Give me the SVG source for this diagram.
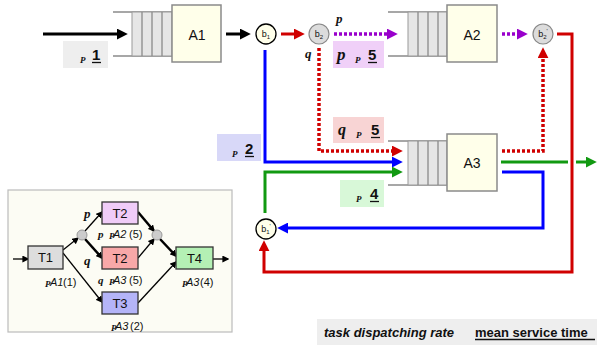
<svg xmlns="http://www.w3.org/2000/svg" width="597" height="345" viewBox="0 0 597 345">
<style>
.box{fill:#ffffea;stroke:#8a8a8a;stroke-width:1.5}
.ql{stroke:#8a8a8a;stroke-width:1.3}
.qc{fill:#e6e6e6;stroke:#9a9a9a;stroke-width:1}
.lbl{font-family:"Liberation Sans",Arial,sans-serif;font-size:14px;fill:#111;text-anchor:middle}
.tsk{font-family:"Liberation Sans",Arial,sans-serif;font-size:13px;fill:#111;text-anchor:middle}
.bt{font-family:"Liberation Sans",Arial,sans-serif;font-size:9px;fill:#111;text-anchor:middle}
.sub{font-size:6px}
.gr{font-family:"Liberation Serif","Times New Roman",serif;font-weight:bold;font-style:italic;fill:#111}
.tiny{font-family:"Liberation Serif","Times New Roman",serif;font-weight:bold;font-style:italic;font-size:9px;fill:#111}
.num{font-family:"Liberation Sans",Arial,sans-serif;font-weight:bold;font-size:15px;fill:#111}
.it{font-family:"Liberation Sans",Arial,sans-serif;font-style:italic;font-size:11px;fill:#111}
.rg{font-family:"Liberation Sans",Arial,sans-serif;font-size:11px;fill:#111}
.tk{fill:none;stroke-width:3}
.dt{fill:none;stroke-width:3.5;stroke-dasharray:3 2}
.th{stroke:#000;stroke-width:1.3;fill:none}
.thk{stroke:#000;stroke-width:2.5;fill:none}
</style>
<defs>
<marker id="ak" viewBox="0 0 10 10" refX="2" refY="5" markerWidth="11" markerHeight="11" orient="auto" markerUnits="userSpaceOnUse"><path d="M0,0 L10,5 L0,10 z" fill="#000"/></marker>
<marker id="ar" viewBox="0 0 10 10" refX="2" refY="5" markerWidth="11" markerHeight="11" orient="auto" markerUnits="userSpaceOnUse"><path d="M0,0 L10,5 L0,10 z" fill="#d00000"/></marker>
<marker id="ab" viewBox="0 0 10 10" refX="2" refY="5" markerWidth="11" markerHeight="11" orient="auto" markerUnits="userSpaceOnUse"><path d="M0,0 L10,5 L0,10 z" fill="#0000ff"/></marker>
<marker id="ag" viewBox="0 0 10 10" refX="2" refY="5" markerWidth="11" markerHeight="11" orient="auto" markerUnits="userSpaceOnUse"><path d="M0,0 L10,5 L0,10 z" fill="#119911"/></marker>
<marker id="ap" viewBox="0 0 10 10" refX="2" refY="5" markerWidth="11" markerHeight="11" orient="auto" markerUnits="userSpaceOnUse"><path d="M0,0 L10,5 L0,10 z" fill="#9900cc"/></marker>
<marker id="as" viewBox="0 0 10 10" refX="8" refY="5" markerWidth="7" markerHeight="7" orient="auto" markerUnits="userSpaceOnUse"><path d="M0,0 L10,5 L0,10 z" fill="#000"/></marker>
</defs>

<!-- labels (rate boxes) -->
<g id="label-1">
<rect x="63" y="41" width="45" height="27" fill="#eeeeee"/>
<text class="tiny" x="80" y="63">P</text>
<text class="num" x="92" y="60">1</text>
<line x1="92" y1="62.5" x2="101" y2="62.5" stroke="#111" stroke-width="1.3"/>
</g>
<g id="label-p5">
<rect x="333" y="41" width="51" height="27" fill="#f0d0f8"/>
<text class="gr" x="337" y="60" font-size="17">p</text>
<text class="tiny" x="355" y="63">P</text>
<text class="num" x="368" y="60">5</text>
<line x1="368" y1="62.5" x2="377" y2="62.5" stroke="#111" stroke-width="1.3"/>
</g>
<g id="label-q5">
<rect x="333" y="117" width="51" height="26" fill="#f8d4d4"/>
<text class="gr" x="338" y="135" font-size="16">q</text>
<text class="tiny" x="356" y="138">P</text>
<text class="num" x="371" y="135">5</text>
<line x1="371" y1="137.5" x2="380" y2="137.5" stroke="#111" stroke-width="1.3"/>
</g>
<g id="label-2">
<rect x="217" y="134" width="44" height="27" fill="#d8d8f8"/>
<text class="tiny" x="232" y="157">P</text>
<text class="num" x="245" y="154">2</text>
<line x1="245" y1="156.5" x2="254" y2="156.5" stroke="#111" stroke-width="1.3"/>
</g>
<g id="label-4">
<rect x="340" y="180" width="44" height="27" fill="#d8f8d8"/>
<text class="tiny" x="356" y="202">P</text>
<text class="num" x="370" y="199">4</text>
<line x1="370" y1="201.5" x2="379" y2="201.5" stroke="#111" stroke-width="1.3"/>
</g>

<!-- connectors -->
<g id="connectors">
<line x1="43" y1="34" x2="119" y2="34" stroke="#000" stroke-width="3" marker-end="url(#ak)"/>
<line x1="226" y1="34" x2="242" y2="34" stroke="#000" stroke-width="3" marker-end="url(#ak)"/>
<line x1="281" y1="34" x2="296" y2="34" stroke="#d00000" stroke-width="3" marker-end="url(#ar)"/>
<line x1="334" y1="34" x2="389" y2="34" class="dt" stroke="#9900cc" marker-end="url(#ap)"/>
<line x1="502" y1="34" x2="519" y2="34" class="dt" stroke="#9900cc" marker-end="url(#ap)"/>
<path d="M319,48 V151 H394" class="dt" stroke="#d00000" marker-end="url(#ar)"/>
<path d="M502,151 H543 V56" class="dt" stroke="#d00000" marker-end="url(#ar)"/>
<path d="M557,34 H572 V272 H264 V249" class="tk" stroke="#d00000" stroke-width="3.5" marker-end="url(#ar)"/>
<path d="M265,50 V162 H394" class="tk" stroke="#0000ff" marker-end="url(#ab)"/>
<path d="M502,172 H543 V228 H286" class="tk" stroke="#0000ff" marker-end="url(#ab)"/>
<path d="M265,213 V172 H394" class="tk" stroke="#119911" marker-end="url(#ag)"/>
<line x1="501" y1="162" x2="568" y2="162" stroke="#119911" stroke-width="3"/>
<line x1="576" y1="162" x2="588" y2="162" stroke="#119911" stroke-width="3" marker-end="url(#ag)"/>
<text class="gr" x="336" y="23" font-size="13">p</text>
<text class="gr" x="305" y="58" font-size="13">q</text>
</g>

<!-- station A1 -->
<g id="A1">
<line class="ql" x1="113" y1="12" x2="172" y2="12"/>
<line class="ql" x1="113" y1="56" x2="172" y2="56"/>
<rect class="qc" x="132" y="12" width="40" height="44"/>
<line class="ql" x1="142" y1="12" x2="142" y2="56"/>
<line class="ql" x1="152" y1="12" x2="152" y2="56"/>
<line class="ql" x1="162" y1="12" x2="162" y2="56"/>
<rect class="box" x="172" y="5" width="49" height="57"/>
<text class="lbl" x="197" y="40">A1</text>
</g>
<!-- station A2 -->
<g id="A2">
<line class="ql" x1="388" y1="12" x2="447" y2="12"/>
<line class="ql" x1="388" y1="56" x2="447" y2="56"/>
<rect class="qc" x="408" y="12" width="39" height="44"/>
<line class="ql" x1="418" y1="12" x2="418" y2="56"/>
<line class="ql" x1="428" y1="12" x2="428" y2="56"/>
<line class="ql" x1="438" y1="12" x2="438" y2="56"/>
<rect class="box" x="447" y="5" width="50" height="57"/>
<text class="lbl" x="472" y="40">A2</text>
</g>
<!-- station A3 -->
<g id="A3">
<line class="ql" x1="388" y1="141" x2="447" y2="141"/>
<line class="ql" x1="388" y1="185" x2="447" y2="185"/>
<rect class="qc" x="408" y="141" width="39" height="44"/>
<line class="ql" x1="418" y1="141" x2="418" y2="185"/>
<line class="ql" x1="428" y1="141" x2="428" y2="185"/>
<line class="ql" x1="438" y1="141" x2="438" y2="185"/>
<rect class="box" x="447" y="134" width="50" height="57"/>
<text class="lbl" x="472" y="168">A3</text>
</g>

<!-- branch points -->
<g id="b1">
<circle cx="266" cy="34" r="10" fill="#ffffea" stroke="#000" stroke-width="1.3"/>
<text class="bt" x="266" y="37">b<tspan class="sub" dy="2">1</tspan></text>
</g>
<g id="b2">
<circle cx="319" cy="34" r="10" fill="#dcdcdc" stroke="#888" stroke-width="1.2"/>
<text class="bt" x="319" y="37">b<tspan class="sub" dy="2">2</tspan></text>
</g>
<g id="b2p">
<circle cx="543" cy="34" r="10" fill="#dcdcdc" stroke="#888" stroke-width="1.2"/>
<text class="bt" x="543" y="37">b<tspan class="sub" dy="2">2</tspan><tspan class="sub" dy="-6">'</tspan></text>
</g>
<g id="b1p">
<circle cx="266" cy="229" r="10" fill="#ffffea" stroke="#000" stroke-width="1.3"/>
<text class="bt" x="266" y="232">b<tspan class="sub" dy="2">1</tspan><tspan class="sub" dy="-6">'</tspan></text>
</g>

<!-- inset task graph -->
<g id="inset">
<rect x="8" y="190" width="224" height="142" fill="#fcfcf4" stroke="#bbbbbb" stroke-width="1.2"/>
<g id="inset-connectors">
<line class="th" x1="13" y1="259" x2="28" y2="259" marker-end="url(#as)"/>
<line class="th" x1="63" y1="250" x2="78" y2="238" marker-end="url(#as)"/>
<line class="th" x1="63" y1="253" x2="102" y2="302" marker-end="url(#as)"/>
<line class="th" x1="85" y1="231" x2="102" y2="212" marker-end="url(#as)"/>
<line class="thk" x1="85" y1="239" x2="102" y2="258" marker-end="url(#as)"/>
<line class="thk" x1="138" y1="212" x2="154" y2="231" marker-end="url(#as)"/>
<line class="th" x1="138" y1="258" x2="154" y2="239" marker-end="url(#as)"/>
<line class="thk" x1="160" y1="239" x2="176" y2="256" marker-end="url(#as)"/>
<line class="th" x1="138" y1="303" x2="176" y2="262" marker-end="url(#as)"/>
<line class="th" x1="213" y1="259" x2="228" y2="259" stroke-width="1.8" marker-end="url(#as)"/>
</g>
<circle id="split" cx="82" cy="235" r="5" fill="#cccccc" stroke="#999" stroke-width="1"/>
<circle id="join" cx="157" cy="235" r="5" fill="#cccccc" stroke="#999" stroke-width="1"/>
<g id="T1"><rect x="28" y="246" width="35" height="23" fill="#dddddd" stroke="#333" stroke-width="1.3"/><text class="tsk" x="45.5" y="262">T1</text></g>
<g id="T2a"><rect x="102" y="202" width="36" height="22" fill="#f0ccf8" stroke="#333" stroke-width="1.3"/><text class="tsk" x="120" y="218">T2</text></g>
<g id="T2b"><rect x="102" y="247" width="36" height="22" fill="#f8a8a8" stroke="#333" stroke-width="1.3"/><text class="tsk" x="120" y="263">T2</text></g>
<g id="T3"><rect x="102" y="292" width="36" height="22" fill="#b4b4f8" stroke="#333" stroke-width="1.3"/><text class="tsk" x="120" y="308">T3</text></g>
<g id="T4"><rect x="176" y="247" width="37" height="22" fill="#b4f0b4" stroke="#333" stroke-width="1.3"/><text class="tsk" x="194.5" y="263">T4</text></g>
<text class="gr" x="84" y="218" font-size="13">p</text>
<text class="gr" x="84" y="265" font-size="13">q</text>
<text x="98" y="238"><tspan class="gr" font-size="11" font-weight="normal">p</tspan></text>
<text class="tiny" x="109" y="239" font-size="6">P</text>
<text class="it" x="113" y="238">A2</text><text class="rg" x="129" y="238">(5)</text>
<text x="98" y="284"><tspan class="gr" font-size="11" font-weight="normal">q</tspan></text>
<text class="tiny" x="109" y="285" font-size="6">P</text>
<text class="it" x="113" y="284">A3</text><text class="rg" x="129" y="284">(5)</text>
<text class="tiny" x="45" y="287" font-size="6">P</text>
<text class="it" x="50" y="286">A1</text><text class="rg" x="63" y="286">(1)</text>
<text class="tiny" x="111" y="331" font-size="6">P</text>
<text class="it" x="115" y="330">A3</text><text class="rg" x="130" y="330">(2)</text>
<text class="tiny" x="182" y="287" font-size="6">P</text>
<text class="it" x="186" y="286">A3</text><text class="rg" x="200" y="286">(4)</text>
</g>

<!-- legend -->
<g id="legend">
<rect x="317" y="319" width="280" height="26" fill="#eeeeee"/>
<text x="324" y="337" font-family="Liberation Sans,Arial,sans-serif" font-size="13" font-weight="bold" font-style="italic" fill="#111">task dispatching rate</text>
<text x="475" y="337" font-family="Liberation Sans,Arial,sans-serif" font-size="13" font-weight="bold" fill="#111">mean service time</text>
<line x1="475" y1="339.5" x2="595" y2="339.5" stroke="#111" stroke-width="1.3"/>
</g>
</svg>
